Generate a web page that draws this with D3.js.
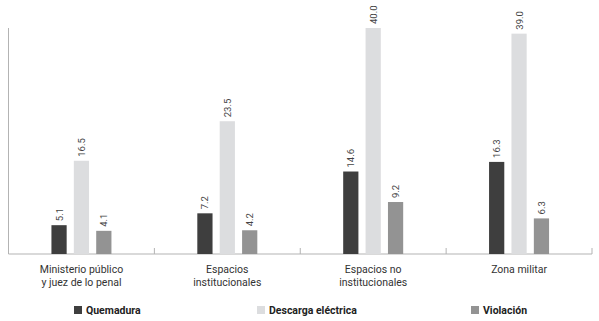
<!DOCTYPE html>
<html>
<head>
<meta charset="utf-8">
<script src="https://cdn.jsdelivr.net/npm/d3@7"></script>
<style>
  body { margin: 0; background: #fff; }
  text { font-family: Roboto, "Open Sans", sans-serif; }
</style>
</head>
<body>
<div id="chart"></div>
<script>
const categories = [
  ["Ministerio público", "y juez de lo penal"],
  ["Espacios", "institucionales"],
  ["Espacios no", "institucionales"],
  ["Zona militar"]
];
const seriesNames = ["Quemadura", "Descarga eléctrica", "Violación"];
const quemadura = [5.1, 7.2, 14.6, 16.3];
const descarga = [16.5, 23.5, 40.0, 39.0];
const violacion = [4.1, 4.2, 9.2, 6.3];
const colors = ["#3e3e3e", "#dcdddf", "#939393"];

const W = 599, H = 321;
const plotLeft = 8.5, plotRight = 592, plotTop = 28, base = 254;

const svg = d3.select("#chart").append("svg")
  .attr("width", W).attr("height", H);

const series = [quemadura, descarga, violacion];
const idx = d3.range(categories.length);

const x0 = d3.scaleBand().domain(idx).range([plotLeft, plotRight]);
const groupW = 60;
const x1 = d3.scaleBand().domain(d3.range(3)).range([-groupW / 2, groupW / 2]).paddingInner(0.32);
const y = d3.scaleLinear().domain([0, 40]).range([base, plotTop]);

// axes
svg.append("line")
  .attr("x1", plotLeft).attr("x2", plotLeft).attr("y1", plotTop).attr("y2", base)
  .attr("stroke", "#b3b3b3").attr("stroke-width", 1);
svg.append("line")
  .attr("x1", plotLeft).attr("x2", plotRight).attr("y1", base).attr("y2", base)
  .attr("stroke", "#b3b3b3").attr("stroke-width", 1);
svg.selectAll("line.tick")
  .data(idx.slice(1).concat([categories.length]))
  .join("line")
  .attr("class", "tick")
  .attr("x1", d => d < categories.length ? x0(d) : plotRight)
  .attr("x2", d => d < categories.length ? x0(d) : plotRight)
  .attr("y1", base - 6).attr("y2", base)
  .attr("stroke", "#b3b3b3");

const flat = [];
idx.forEach(i => series.forEach((s, j) => flat.push({ i, j, v: s[i] })));

const cx = d => x0(d.i) + x0.bandwidth() / 2 + x1(d.j);

svg.selectAll("rect.bar")
  .data(flat)
  .join("rect")
  .attr("class", "bar")
  .attr("x", cx)
  .attr("y", d => y(d.v))
  .attr("width", x1.bandwidth())
  .attr("height", d => base - y(d.v))
  .attr("fill", d => colors[d.j]);

svg.selectAll("text.val")
  .data(flat)
  .join("text")
  .attr("class", "val")
  .attr("transform", d => `translate(${cx(d) + x1.bandwidth() / 2 + 3.5},${y(d.v) - 4}) rotate(-90)`)
  .attr("font-size", 9.5)
  .attr("fill", "#444")
  .text(d => d.v.toFixed(1));

// category labels
const cat = svg.selectAll("text.cat")
  .data(categories)
  .join("text")
  .attr("class", "cat")
  .attr("text-anchor", "middle")
  .attr("font-size", 10.5)
  .attr("fill", "#333")
  .attr("x", (d, i) => x0(i) + x0.bandwidth() / 2)
  .attr("y", 273);
cat.selectAll("tspan")
  .data(d => d)
  .join("tspan")
  .attr("x", function () { return d3.select(this.parentNode).attr("x"); })
  .attr("dy", (d, k) => k === 0 ? 0 : 12.5)
  .text(d => d);

// legend
const legendX = [74, 257, 471];
const leg = svg.selectAll("g.leg")
  .data(seriesNames)
  .join("g")
  .attr("class", "leg")
  .attr("transform", (d, i) => `translate(${legendX[i]},306)`);
leg.append("rect")
  .attr("width", 8).attr("height", 8)
  .attr("fill", (d, i) => colors[i]);
leg.append("text")
  .attr("x", 12).attr("y", 8)
  .attr("font-size", 10.5)
  .attr("font-weight", "bold")
  .attr("fill", "#222")
  .text(d => d);
</script>
</body>
</html>
